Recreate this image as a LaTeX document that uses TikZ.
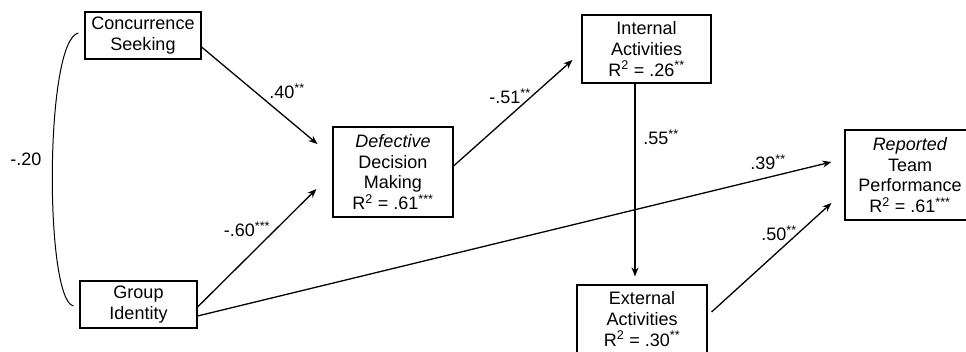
\documentclass[tikz,border=0pt]{standalone}
\usepackage{fontspec}
\setmainfont{Liberation Sans}
\usetikzlibrary{arrows.meta,calc}
\begin{document}
\begin{tikzpicture}[x=1pt,y=-1pt,
  box/.style={draw,line width=1.1pt,rectangle,inner sep=0pt,align=center,
    font=\fontsize{18}{20.7}\selectfont},
  lbl/.style={inner sep=0pt,font=\fontsize{18}{20.7}\selectfont},
  path/.style={line width=1.3pt,-{Stealth[length=9pt,width=7pt]}},
  corr/.style={line width=1pt}]
\useasboundingbox (0,0) rectangle (966,352);
\node[box,minimum width=116pt,minimum height=47pt] (CS) at (143,35.5) {Concurrence\\Seeking};
\node[box,minimum width=117pt,minimum height=47pt] (GI) at (138.5,304.5) {Group\\Identity};
\node[box,minimum width=120pt,minimum height=90pt] (DDM) at (393,172) {\textit{Defective}\\Decision\\Making\\R\textsuperscript{2} = .61\textsuperscript{***}};
\node[box,minimum width=129pt,minimum height=68pt] (IA) at (646.5,49) {Internal\\Activities\\R\textsuperscript{2} = .26\textsuperscript{**}};
\node[box,minimum width=130pt,minimum height=68pt] (EA) at (642,319) {External\\Activities\\R\textsuperscript{2} = .30\textsuperscript{**}};
\node[box,minimum width=130pt,minimum height=90pt] (RTP) at (910,175) {\textit{Reported}\\Team\\Performance\\R\textsuperscript{2} = .61\textsuperscript{***}};
% correlation
\draw[corr] ([xshift=-6pt,yshift=2.5pt]CS.west) .. controls +(-34,7) and +(-29,-6) .. ([xshift=-6pt,yshift=-1.5pt]GI.west);
\node[lbl] (r20) at (26,159) {-.20};
% paths
\draw[path] ([yshift=-11.5pt]CS.east) -- ([xshift=-15pt,yshift=28pt]DDM.west);
\draw[path] ([yshift=-2.5pt]GI.east) -- ([xshift=-16pt,yshift=-17pt]DDM.west);
\draw[path] ([yshift=-11.5pt]GI.east) -- ([xshift=-13pt,yshift=13pt]RTP.west);
\draw[path] ([yshift=6pt]DDM.east) -- ([xshift=-9pt,yshift=-11pt]IA.west);
\draw[path] ([xshift=-11.5pt]IA.south) -- ([xshift=-11.5pt,yshift=8pt]IA.south |- EA.north);
\draw[path] ([xshift=4pt,yshift=7pt]EA.east) -- ([xshift=-13pt,yshift=-28pt]RTP.west);
% labels
\node[lbl] (l40) at (287,91) {.40\textsuperscript{**}};
\node[lbl] (l60) at (247,229) {-.60\textsuperscript{***}};
\node[lbl] (l39) at (768,162) {.39\textsuperscript{**}};
\node[lbl] (l51) at (510,96) {-.51\textsuperscript{**}};
\node[lbl] (l55) at (661,137) {.55\textsuperscript{**}};
\node[lbl] (l50) at (779,233) {.50\textsuperscript{**}};
\end{tikzpicture}
\end{document}
